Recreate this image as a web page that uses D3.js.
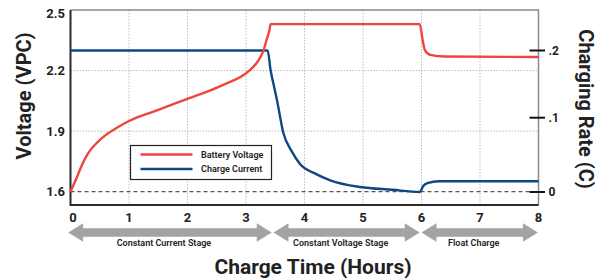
<!DOCTYPE html>
<html>
<head>
<meta charset="utf-8">
<script src="https://cdn.jsdelivr.net/npm/d3@7"></script>
<style>
	body { margin: 0; background: #fff; }
	svg { display: block; font-family: Roboto, "Noto Sans", sans-serif; }
</style>
</head>
<body>
<svg id="chart" width="606" height="279"></svg>
<script>
// hours vs volts per cell
const voltage = [
	[0, 1.60], [0.1, 1.665], [0.2, 1.735], [0.3, 1.79], [0.45, 1.842], [0.6, 1.88],
	[0.8, 1.918], [1.0, 1.95], [1.5, 2.005], [2.04, 2.065], [2.21, 2.082], [2.6, 2.128],
	[3.05, 2.198], [3.2, 2.245], [3.3, 2.30], [3.35, 2.35], [3.40, 2.40], [3.42, 2.43],
	[5.97, 2.43], [6.02, 2.35], [6.06, 2.30], [6.15, 2.278], [6.4, 2.27], [8, 2.267],
]
// hours vs charging rate (C)
const current = [
	[0, 0.2], [3.37, 0.2], [3.42, 0.171], [3.47, 0.15], [3.53, 0.126], [3.64, 0.079],
	[3.78, 0.055], [3.92, 0.038], [4.2, 0.024], [4.44, 0.0158], [4.95, 0.0068],
	[5.5, 0.003], [5.97, 0.0], [6.03, 0.008], [6.1, 0.012], [6.3, 0.0145], [8, 0.0145],
]
const xTicks = [0, 1, 2, 3, 4, 5, 6, 7, 8]
const voltTicks = [1.6, 1.9, 2.2, 2.5]
const rateTicks = [0, 0.1, 0.2]
const rateLabels = ["0", ".1", ".2"]
const stages = [
	{ name: "Constant Current Stage", start: -0.04, end: 3.44 },
	{ name: "Constant Voltage Stage", start: 3.47, end: 5.97 },
	{ name: "Float Charge", start: 6.0, end: 7.99 },
]
const legendItems = [
	{ name: "Battery Voltage", colour: "#ef4540" },
	{ name: "Charge Current", colour: "#0d4883" },
]

const plot = { left: 70.5, right: 538.5, top: 10, bottom: 205 }
const svg = d3.select("#chart")

const x = d3.scaleLinear().domain([0, 8]).range([plot.left, plot.right])
const yV = d3.scaleLinear().domain([1.6, 2.5]).range([191.7, 10])
// the right axis in the original is not evenly spaced
const yC = d3.scaleLinear().domain([0, 0.1, 0.2]).range([192, 117.7, 50.5])

// grid
const grid = svg.append("g").attr("class", "grid")
	.attr("stroke", "#bdbdbd").attr("stroke-width", 1).attr("stroke-dasharray", "1.5,1.5")
grid.selectAll("line.v")
	.data(xTicks.slice(1, -1))
	.join("line")
	.attr("x1", d => x(d)).attr("x2", d => x(d))
	.attr("y1", plot.top).attr("y2", plot.bottom)
grid.selectAll("line.h")
	.data([1.9, 2.2])
	.join("line")
	.attr("x1", plot.left).attr("x2", plot.right)
	.attr("y1", d => yV(d)).attr("y2", d => yV(d))

// baseline (1.6 V / 0 C)
svg.append("line")
	.attr("x1", plot.left).attr("x2", 531)
	.attr("y1", yV(1.6)).attr("y2", yV(1.6))
	.attr("stroke", "#555").attr("stroke-width", 1.2).attr("stroke-dasharray", "4,3")

// frame
svg.append("path")
	.attr("d", `M${plot.left},${plot.top}H${plot.right}V${plot.bottom}`)
	.attr("fill", "none").attr("stroke", "#8a8a8a").attr("stroke-width", 1.5)
svg.append("path")
	.attr("d", `M${plot.left},${plot.top}V${plot.bottom}H${plot.right}`)
	.attr("fill", "none").attr("stroke", "#2a2a2a").attr("stroke-width", 2)

// lines
const line = yScale => d3.line()
	.x(d => x(d[0]))
	.y(d => yScale(d[1]))
	.curve(d3.curveMonotoneX)

svg.append("path")
	.datum(current)
	.attr("d", line(yC))
	.attr("fill", "none").attr("stroke", legendItems[1].colour).attr("stroke-width", 2.4)
svg.append("path")
	.datum(voltage)
	.attr("d", line(yV))
	.attr("fill", "none").attr("stroke", legendItems[0].colour).attr("stroke-width", 2.4)

// left axis labels
svg.append("g")
	.selectAll("text")
	.data(voltTicks)
	.join("text")
	.attr("x", 65)
	.attr("y", d => yV(d) + (d === 2.5 ? 3 : 0))
	.attr("dy", "0.35em")
	.attr("text-anchor", "end")
	.style("font-size", "13px").style("font-weight", "bold").attr("fill", "#222")
	.text(d => d.toFixed(1))

// right axis ticks + labels
const right = svg.append("g")
right.selectAll("line")
	.data(rateTicks)
	.join("line")
	.attr("x1", 529.5).attr("x2", 545)
	.attr("y1", d => yC(d)).attr("y2", d => yC(d))
	.attr("stroke", "#111").attr("stroke-width", 2)
right.selectAll("text")
	.data(rateTicks)
	.join("text")
	.attr("x", 548.5)
	.attr("y", d => yC(d))
	.attr("dy", "0.35em")
	.style("font-size", "12px").style("font-weight", "bold").attr("fill", "#222")
	.text((d, i) => rateLabels[i])

// bottom axis labels
svg.append("g")
	.selectAll("text")
	.data(xTicks)
	.join("text")
	.attr("x", d => x(d) + (d === 0 ? 2.5 : 0))
	.attr("y", 217.5)
	.attr("dy", "0.35em")
	.attr("text-anchor", "middle")
	.style("font-size", "13px").style("font-weight", "bold").attr("fill", "#222")
	.text(d => d)

// stage arrows
const arrowY = 232.5, headLen = 15, headHalf = 9.3, shaftHalf = 4.2
function arrowPath(s) {
	const x0 = x(s.start), x1 = x(s.end)
	return `M${x0},${arrowY}L${x0 + headLen},${arrowY - headHalf}V${arrowY - shaftHalf}`
		+ `H${x1 - headLen}V${arrowY - headHalf}L${x1},${arrowY}L${x1 - headLen},${arrowY + headHalf}`
		+ `V${arrowY + shaftHalf}H${x0 + headLen}V${arrowY + headHalf}Z`
}
const stageG = svg.append("g")
stageG.selectAll("path")
	.data(stages)
	.join("path")
	.attr("d", arrowPath)
	.attr("fill", "#a3a3a3")
stageG.selectAll("text")
	.data(stages)
	.join("text")
	.attr("x", d => (x(d.start) + x(d.end)) / 2 - 6)
	.attr("y", 246)
	.attr("text-anchor", "middle")
	.style("font-size", "9px").style("font-weight", 600).attr("fill", "#222")
	.text(d => d.name)

// axis titles
svg.append("text")
	.attr("transform", "translate(31,96) rotate(-90)")
	.attr("text-anchor", "middle")
	.style("font-size", "20px").style("font-weight", "bold").attr("fill", "#222")
	.text("Voltage (VPC)")
svg.append("text")
	.attr("transform", "translate(579,109) rotate(90)")
	.attr("text-anchor", "middle")
	.style("font-size", "20px").style("font-weight", "bold").attr("fill", "#222")
	.text("Charging Rate (C)")
svg.append("text")
	.attr("x", 313)
	.attr("y", 274)
	.attr("text-anchor", "middle")
	.style("font-size", "21px").style("font-weight", "bold").attr("fill", "#222")
	.text("Charge Time (Hours)")

// legend
const legend = svg.append("g").attr("transform", "translate(130,145)")
legend.append("rect")
	.attr("x", 0.5).attr("y", 0.5).attr("width", 141).attr("height", 34)
	.attr("fill", "#fff").attr("stroke", "#222").attr("stroke-width", 1.2)
const item = legend.selectAll("g")
	.data(legendItems)
	.join("g")
	.attr("transform", (d, i) => `translate(0,${9.5 + i * 14.5})`)
item.append("line")
	.attr("x1", 10.5).attr("x2", 62.5)
	.attr("stroke", d => d.colour).attr("stroke-width", 2.4)
item.append("text")
	.attr("x", 71)
	.attr("dy", "0.35em")
	.style("font-size", "9px").style("font-weight", 600).attr("fill", "#222")
	.text(d => d.name)
</script>
</body>
</html>
